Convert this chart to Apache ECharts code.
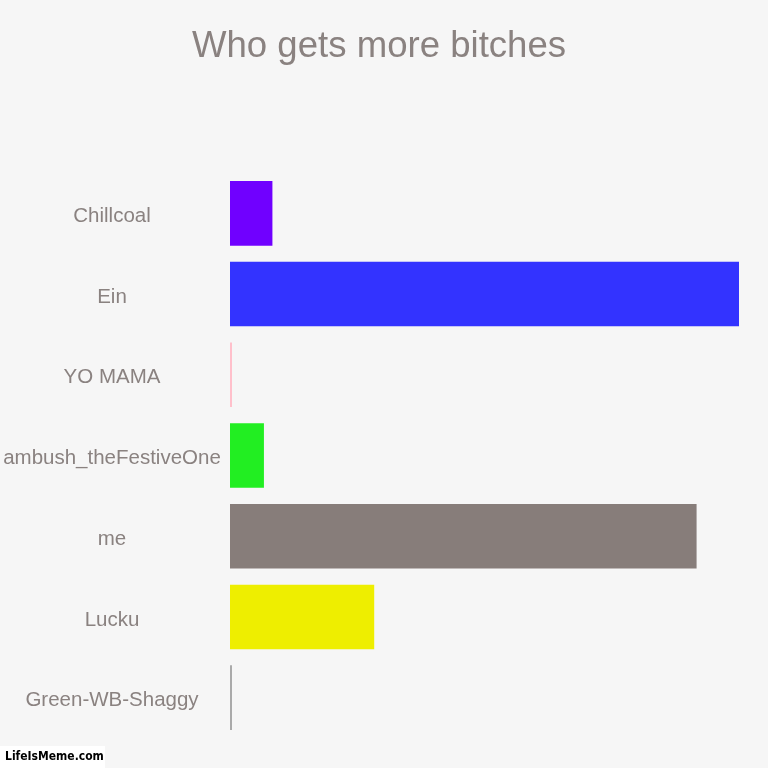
<!DOCTYPE html>
<html>
<head>
<meta charset="utf-8">
<script src="https://cdn.jsdelivr.net/npm/echarts@6/dist/echarts.min.js"></script>
<style>
    html, body { margin: 0; padding: 0; background: #f6f6f6; }
    #chart { width: 768px; height: 768px; }
</style>
</head>
<body>
<div id="chart"></div>
<script>
// Chart data
const categories = ['Chillcoal', 'Ein', 'YO MAMA', 'ambush_theFestiveOne', 'me', 'Lucku', 'Green-WB-Shaggy'];
const values = [5, 60, 0, 4, 55, 17, 0];
const barColors = ['#7000ff', '#3333ff', '#ffc0cb', '#22ee22', '#877d7a', '#eeee00', '#aaaaaa'];

const textColor = '#8a8280';

const chart = echarts.init(document.getElementById('chart'));

chart.setOption({
    backgroundColor: '#f6f6f6',
    animation: false,
    title: {
        text: 'Who gets more bitches',
        left: 192,
        top: 28,
        padding: 0,
        textStyle: {
            fontFamily: 'Liberation Sans',
            fontSize: 36.6,
            fontWeight: 'normal',
            color: textColor
        }
    },
    grid: { left: 230, right: 29, top: 173, bottom: 30, outerBoundsMode: 'none' },
    xAxis: {
        type: 'value',
        min: 0,
        max: 60,
        show: false
    },
    yAxis: {
        type: 'category',
        inverse: true,
        data: categories,
        axisLine: { show: false },
        axisTick: { show: false },
        splitLine: { show: false },
        axisLabel: {
            margin: 118,
            align: 'center',
            formatter: '{a|{value}}',
            rich: {
                a: {
                    padding: [6, 0, 0, 0],
                    fontFamily: 'Liberation Sans',
                    fontSize: 20.5,
                    color: textColor
                }
            }
        }
    },
    series: [{
        type: 'bar',
        barCategoryGap: '20%',
        barMinHeight: 2,
        data: values.map((v, i) => ({
            value: v,
            itemStyle: { color: barColors[i] }
        }))
    }],
    graphic: [{
        type: 'rect',
        left: 0,
        top: 746,
        shape: { width: 105, height: 22 },
        style: { fill: '#ffffff' }
    }, {
        type: 'text',
        left: 5,
        top: 751,
        style: {
            text: 'LifeIsMeme.com',
            fontFamily: 'DejaVu Sans Condensed',
            fontWeight: 'bold',
            fontSize: 12,
            fill: '#000000'
        }
    }]
});
</script>
</body>
</html>
